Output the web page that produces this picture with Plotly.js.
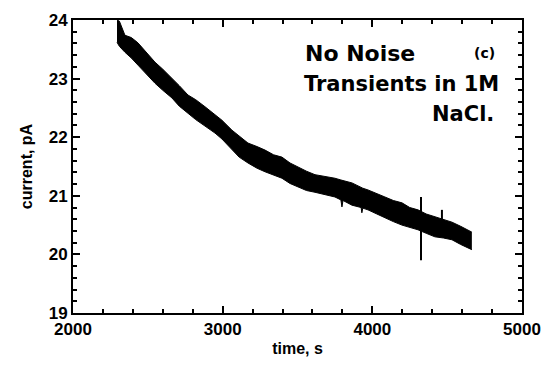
<!DOCTYPE html>
<html>
<head>
<meta charset="utf-8">
<script src="https://cdn.plot.ly/plotly-3.0.1.min.js"></script>
<style>html,body{margin:0;padding:0;background:#fff;}#chart{width:543px;height:365px;}</style>
</head>
<body>
<div id="chart"></div>
<script>
// time (s) at which the band edges were read
const timeS = [2294, 2310, 2347, 2390, 2434, 2490, 2548, 2600, 2661, 2710, 2768, 2820, 2882, 2949, 2995, 3062, 3110, 3169, 3230, 3283, 3340, 3396, 3450, 3503, 3560, 3617, 3690, 3750, 3790, 3797, 3804, 3864, 3925, 3930, 3936, 3971, 4030, 4084, 4140, 4198, 4250, 4305, 4360, 4418, 4475, 4532, 4590, 4639, 4665];
// upper edge of the noisy current band (pA)
const upperPA = [24.00, 23.98, 23.74, 23.70, 23.61, 23.45, 23.28, 23.16, 23.01, 22.88, 22.72, 22.64, 22.52, 22.38, 22.29, 22.12, 22.02, 21.90, 21.84, 21.78, 21.70, 21.66, 21.56, 21.49, 21.42, 21.36, 21.33, 21.30, 21.27, 21.26, 21.26, 21.22, 21.14, 21.14, 21.13, 21.10, 21.03, 20.98, 20.92, 20.88, 20.80, 20.76, 20.69, 20.64, 20.60, 20.55, 20.48, 20.42, 20.38];
// lower edge of the noisy current band (pA)
const lowerPA = [23.62, 23.55, 23.45, 23.35, 23.23, 23.08, 22.92, 22.80, 22.67, 22.53, 22.41, 22.30, 22.19, 22.07, 21.97, 21.78, 21.66, 21.56, 21.47, 21.41, 21.35, 21.30, 21.21, 21.15, 21.09, 21.06, 21.01, 20.98, 20.93, 20.81, 20.92, 20.84, 20.80, 20.71, 20.79, 20.76, 20.69, 20.62, 20.56, 20.50, 20.46, 20.42, 20.36, 20.30, 20.28, 20.25, 20.17, 20.11, 20.08];
// isolated spikes
const spike1T = [4325, 4325];
const spike1PA = [19.90, 20.98];
const spike2T = [4465, 4465];
const spike2PA = [20.50, 20.76];
// tick positions and labels
const xMajorTicks = [2000, 3000, 4000, 5000];
const xTickLabels = ['2000', '3000', '4000', '5000'];
const yMajorTicks = [19, 20, 21, 22, 23, 24];
const yTickLabels = ['19', '20', '21', '22', '23', '24'];

const ink = 'black';
const bold = s => '<b>' + s + '</b>';

const traces = [
  {x: timeS, y: lowerPA, mode: 'lines', line: {color: ink, width: 1}, showlegend: false},
  {x: timeS, y: upperPA, mode: 'lines', fill: 'tonexty', fillcolor: ink, line: {color: ink, width: 1}, showlegend: false},
  {x: spike1T, y: spike1PA, mode: 'lines', line: {color: ink, width: 2}, showlegend: false},
  {x: spike2T, y: spike2PA, mode: 'lines', line: {color: ink, width: 2}, showlegend: false}
];

const tickFont = {family: 'Liberation Sans, Arial, sans-serif', size: 17, color: ink};
const titleFont = {family: 'Liberation Sans, Arial, sans-serif', size: 16, color: ink};
const handFamily = 'DejaVu Sans, sans-serif';
const plotW = 449, plotH = 293;

const layout = {
  width: 543, height: 365,
  margin: {l: 73, r: 21, t: 20, b: 52},
  paper_bgcolor: '#fff', plot_bgcolor: '#fff',
  xaxis: {
    range: [2000, 5000], tickmode: 'array', tickvals: xMajorTicks, ticktext: xTickLabels.map(bold),
    showgrid: false, zeroline: false, showline: true, linecolor: ink, linewidth: 2, mirror: 'ticks',
    ticks: 'inside', ticklen: 7, tickwidth: 2, tickcolor: ink,
    minor: {tickmode: 'linear', tick0: 2000, dtick: 200, ticks: 'inside', ticklen: 4, tickwidth: 2, tickcolor: ink, showgrid: false},
    tickfont: tickFont,
    title: {text: bold('time, s'), font: titleFont, standoff: 4}
  },
  yaxis: {
    range: [19, 24], tickmode: 'array', tickvals: yMajorTicks, ticktext: yTickLabels.map(bold),
    showgrid: false, zeroline: false, showline: true, linecolor: ink, linewidth: 2, mirror: 'ticks',
    ticks: 'inside', ticklen: 7, tickwidth: 2, tickcolor: ink,
    minor: {tickmode: 'linear', tick0: 19, dtick: 0.2, ticks: 'inside', ticklen: 4, tickwidth: 2, tickcolor: ink, showgrid: false},
    tickfont: tickFont,
    title: {text: bold('current, pA'), font: titleFont, standoff: 12}
  },
  annotations: [
    {xref: 'paper', yref: 'paper', x: (360 - 73) / plotW, y: (313 - 54) / plotH, text: bold('No Noise'), showarrow: false, font: {family: handFamily, size: 22, color: ink}, xanchor: 'center', yanchor: 'middle'},
    {xref: 'paper', yref: 'paper', x: (484 - 73) / plotW, y: (313 - 53) / plotH, text: bold('(c)'), showarrow: false, font: {family: handFamily, size: 14, color: ink}, xanchor: 'center', yanchor: 'middle'},
    {xref: 'paper', yref: 'paper', x: (401 - 73) / plotW, y: (313 - 84) / plotH, text: bold('Transients in 1M'), showarrow: false, font: {family: handFamily, size: 21, color: ink}, xanchor: 'center', yanchor: 'middle'},
    {xref: 'paper', yref: 'paper', x: (463 - 73) / plotW, y: (313 - 114) / plotH, text: bold('NaCl.'), showarrow: false, font: {family: handFamily, size: 21, color: ink}, xanchor: 'center', yanchor: 'middle'}
  ]
};

Plotly.newPlot('chart', traces, layout, {displayModeBar: false}).catch(function (e) {
  document.body.insertAdjacentHTML('beforeend', '<pre style="color:red">' + e + '</pre>');
});
</script>
</body>
</html>
